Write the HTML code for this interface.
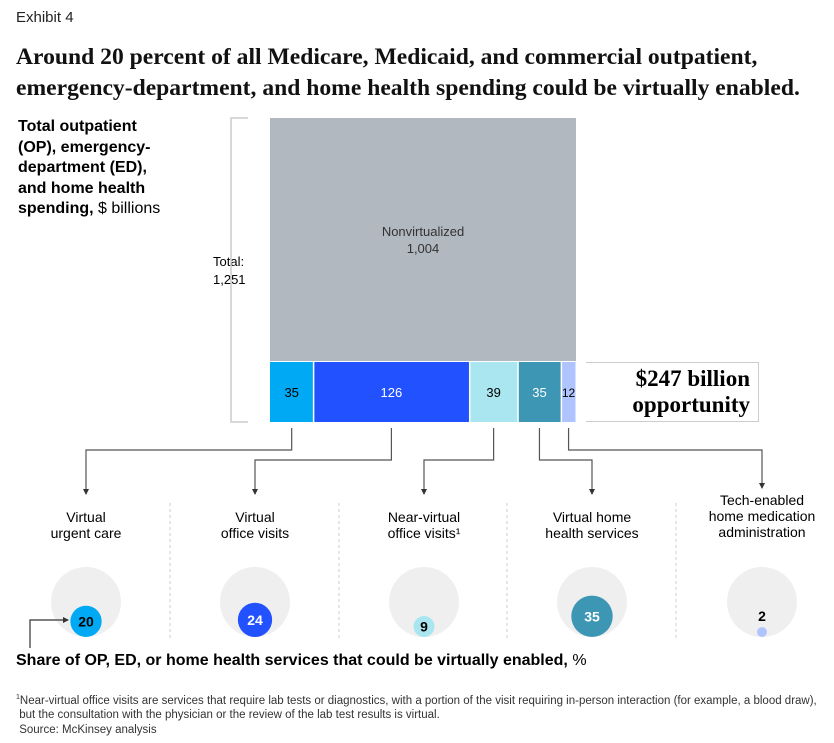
<!DOCTYPE html>
<html><head><meta charset="utf-8"><style>
body{margin:0;width:834px;height:743px;background:#fff;font-family:"Liberation Sans",sans-serif;color:#000;position:relative;overflow:hidden}
.a{position:absolute}
.ser{font-family:"Liberation Serif",serif;font-weight:bold}
</style></head><body>
<div class="a" style="left:16px;top:9px;font-size:15px;color:#222">Exhibit 4</div>
<div class="a ser" style="left:16px;top:42px;font-size:23.6px;line-height:31px;color:#111;white-space:nowrap">Around 20 percent of all Medicare, Medicaid, and commercial outpatient,<br>emergency-department, and home health spending could be virtually enabled.</div>
<div class="a" style="left:18px;top:117px;font-size:16px;line-height:20.5px"><b>Total outpatient<br>(OP), emergency-<br>department (ED),<br>and home health<br>spending,</b> $ billions</div>
<div class="a" style="left:213px;top:253px;font-size:13px;line-height:18px">Total:<br>1,251</div>
<svg class="a" style="left:0;top:0" width="834" height="743" id="chart"></svg>
<div class="a" style="left:586px;top:362px;width:172px;height:58px;border:1px solid #ccc;border-left:none"></div>
<div class="a ser" style="left:586px;top:366px;width:164px;text-align:right;font-size:23px;line-height:26px">$247 billion<br>opportunity</div>
<div class="a" style="left:16px;top:652px;font-size:16px;white-space:nowrap"><b>Share of OP, ED, or home health services that could be virtually enabled,</b> %</div>
<div class="a" style="left:16px;top:691px;font-size:11.5px;line-height:14.5px;color:#333;white-space:nowrap"><sup style="font-size:7px">1</sup>Near-virtual office visits are services that require lab tests or diagnostics, with a portion of the visit requiring in-person interaction (for example, a blood draw),<br>&nbsp;but the consultation with the physician or the review of the lab test results is virtual.<br>&nbsp;Source: McKinsey analysis</div>
<script>
const categories=["Virtual|urgent care","Virtual|office visits","Near-virtual|office visits¹","Virtual home|health services","Tech-enabled|home medication|administration"];
const spend=[35,126,39,35,12];
const nonvirt=1004;
const shares=[20,24,9,35,2];
const colors=["#00a9f4","#2251ff","#aae6f0","#3c96b4","#afc3ff"];
const textCol=["#000","#fff","#000","#fff","#000"];
const NS="http://www.w3.org/2000/svg";
const svg=document.getElementById('chart');
function mk(t,a,p){const e=document.createElementNS(NS,t);for(const k in a)e.setAttribute(k,a[k]);(p||svg).appendChild(e);return e;}
const total=nonvirt+spend.reduce((a,b)=>a+b,0);
const X0=270,W=306,Y0=118,H=304;
const virt=spend.reduce((a,b)=>a+b,0);
const stripH=H*virt/total;
const xs=v=>v*W/virt;
let r=mk('rect',{x:X0,y:Y0,width:W,height:H-stripH-1,fill:'#b1b8bf'});

let t=mk('text',{x:X0+W/2,y:Y0+(H-stripH)/2-4,'text-anchor':'middle','font-size':13,fill:'#333'});t.textContent='Nonvirtualized';
t=mk('text',{x:X0+W/2,y:Y0+(H-stripH)/2+13,'text-anchor':'middle','font-size':13,fill:'#333'});t.textContent=nonvirt.toLocaleString('en-US');
mk('path',{d:`M248 ${Y0}H231V${Y0+H}H248`,fill:'none',stroke:'#ccc','stroke-width':1.5});
const colX=[86,255,424,592,762];
let cx=X0;const segC=[];
spend.forEach((v,i)=>{const w=xs(v);
 const s=mk('rect',{x:cx+(i?1:0),y:Y0+H-stripH,width:w-(i?1:0)-0.5,height:stripH,fill:colors[i]});
 
 const l=mk('text',{x:cx+w/2,y:Y0+H-stripH/2+5,'text-anchor':'middle','font-size':v<20?12:13,fill:textCol[i]});l.textContent=v;
 segC.push(cx+w/2);cx+=w;});
const midY=[450,460,460,460,450],endY=[494,494,494,494,488];
mk('defs',{}).innerHTML='<marker id="ar" markerWidth="6" markerHeight="6" refX="5" refY="3" orient="auto" markerUnits="userSpaceOnUse"><path d="M0 0L6 3L0 6Z" fill="#333"/></marker>';
segC.forEach((x,i)=>{const p=mk('path',{d:`M${x} ${Y0+H+6}V${midY[i]}H${colX[i]}V${endY[i]}`,fill:'none',stroke:'#555','stroke-width':1.2});
 p.setAttribute('marker-end','url(#ar)');});
[170,339,507,676].forEach(x=>mk('line',{x1:x,y1:503,x2:x,y2:640,stroke:'#ccc','stroke-dasharray':'3,3'}));
const R=35,cy=602;
categories.forEach((c,i)=>{const lines=c.split('|');const top=lines.length==3?500:517;
 lines.forEach((ln,j)=>{const tt=mk('text',{x:colX[i],y:top+j*16+5,'text-anchor':'middle','font-size':14});tt.textContent=ln;});
 mk('circle',{cx:colX[i],cy:cy,r:R,fill:'#efefef'});
 const rr=R*Math.sqrt(shares[i]/100);
 const c2=mk('circle',{cx:colX[i],cy:cy+R-rr,r:rr,fill:colors[i]});
 
 const ly=rr>9?cy+R-rr+5:cy+R-2*rr-6;
 const lt=mk('text',{x:colX[i],y:ly,'text-anchor':'middle','font-size':14,'font-weight':'bold',fill:textCol[i]});lt.textContent=shares[i];});
const ap=mk('path',{d:'M30 648V620H68',fill:'none',stroke:'#333','stroke-width':1.2});ap.setAttribute('marker-end','url(#ar)');
</script>
</body></html>
